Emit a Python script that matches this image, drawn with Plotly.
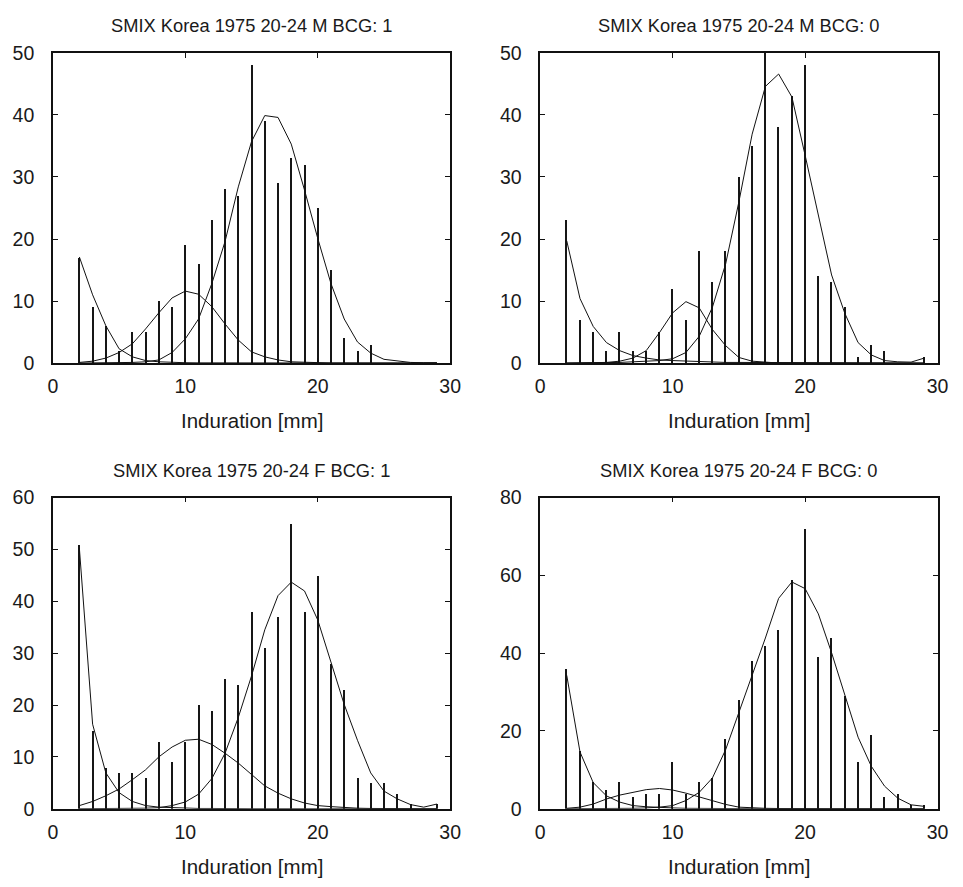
import plotly.graph_objects as go

# ---------------- data ----------------
x_bins = list(range(2, 30))  # induration 2..29 mm

titles = [
    "SMIX Korea 1975 20-24 M BCG: 1",
    "SMIX Korea 1975 20-24 M BCG: 0",
    "SMIX Korea 1975 20-24 F BCG: 1",
    "SMIX Korea 1975 20-24 F BCG: 0",
]
x_title = "Induration [mm]"
x_ticks = [0, 10, 20, 30]
y_ranges = [[0, 50], [0, 50], [0, 60], [0, 80]]
y_dticks = [10, 10, 10, 20]

# observed counts (x = 2..29)
counts_m1 = [17, 9, 6, 2, 5, 5, 10, 9, 19, 16, 23, 28, 27, 48, 39, 29, 33, 32, 25, 15, 4, 2, 3, 0, 0, 0, 0, 0]
counts_m0 = [23, 7, 5, 2, 5, 2, 2, 5, 12, 7, 18, 13, 18, 30, 35, 50, 38, 43, 48, 14, 13, 9, 1, 3, 2, 0, 0, 1]
counts_f1 = [51, 15, 8, 7, 7, 6, 13, 9, 13, 20, 19, 25, 24, 38, 31, 37, 55, 38, 45, 28, 23, 6, 5, 5, 3, 1, 0, 1]
counts_f0 = [36, 15, 7, 5, 7, 3, 4, 4, 12, 4, 7, 8, 18, 28, 38, 42, 46, 59, 72, 39, 44, 29, 12, 19, 3, 4, 1, 1]

# fitted mixture components (x = 2..29)
m1_a = [17.1, 11.0, 6.0, 2.3, 1.0, 0.4, 0.2, 0.1, 0.05, 0.03, 0.02, 0.01, 0, 0, 0, 0, 0, 0, 0, 0, 0, 0, 0, 0, 0, 0, 0, 0]
m1_b = [0.1, 0.3, 0.8, 1.7, 3.1, 5.5, 8.1, 10.5, 11.6, 11.1, 9.1, 6.3, 3.7, 1.8, 1.0, 0.5, 0.2, 0.1, 0, 0, 0, 0, 0, 0, 0, 0, 0, 0]
m1_c = [0, 0, 0, 0, 0.1, 0.2, 0.5, 1.7, 3.9, 7.1, 12.8, 19.6, 28.4, 35.7, 39.9, 39.6, 35.3, 27.9, 20.1, 12.8, 7.1, 3.4, 1.6, 0.6, 0.3, 0.1, 0.05, 0.05]

m0_a = [19.7, 10.4, 5.9, 3.3, 2.0, 1.2, 0.8, 0.5, 0.4, 0.3, 0.2, 0.15, 0.1, 0.1, 0.1, 0.05, 0.05, 0.05, 0.05, 0, 0, 0, 0, 0, 0, 0, 0, 0]
m0_b = [0, 0, 0.05, 0.1, 0.3, 0.8, 2.0, 4.9, 8.1, 9.9, 8.9, 5.4, 2.8, 0.9, 0.3, 0.1, 0, 0, 0, 0, 0, 0, 0, 0, 0, 0, 0, 0]
m0_c = [0, 0, 0, 0, 0.1, 0.2, 0.3, 0.4, 0.7, 1.7, 4.3, 9.0, 16.0, 26.0, 36.9, 44.6, 46.6, 42.9, 33.5, 23.6, 14.2, 8.0, 3.3, 1.3, 0.4, 0.2, 0.15, 0.8]

f1_a = [50.2, 16.3, 6.9, 3.1, 1.4, 0.6, 0.3, 0.2, 0.1, 0.05, 0.05, 0, 0, 0, 0, 0, 0, 0, 0, 0, 0, 0, 0, 0, 0, 0, 0, 0]
f1_b = [0.6, 1.4, 2.5, 3.8, 5.6, 7.5, 10.0, 11.9, 13.2, 13.4, 12.4, 10.7, 8.8, 6.6, 4.4, 3.0, 1.9, 1.1, 0.6, 0.4, 0.2, 0.1, 0.05, 0.05, 0, 0, 0, 0]
f1_c = [0, 0, 0, 0, 0, 0.1, 0.2, 0.6, 1.3, 2.8, 5.8, 10.7, 17.6, 25.6, 34.5, 41.1, 43.7, 42.0, 36.4, 28.2, 20.1, 13.2, 6.9, 3.4, 1.9, 0.8, 0.3, 0.9]

f0_a = [34.3, 14.6, 6.7, 3.3, 1.7, 0.8, 0.5, 0.3, 0.2, 0.1, 0.05, 0.05, 0, 0, 0, 0, 0, 0, 0, 0, 0, 0, 0, 0, 0, 0, 0, 0]
f0_b = [0.1, 0.4, 1.2, 2.5, 3.5, 4.3, 4.9, 5.2, 4.8, 4.0, 3.0, 1.9, 1.1, 0.4, 0.2, 0.1, 0.05, 0, 0, 0, 0, 0, 0, 0, 0, 0, 0, 0]
f0_c = [0, 0, 0, 0, 0, 0.1, 0.2, 0.4, 0.8, 2.1, 4.2, 7.9, 15.2, 24.6, 34.3, 43.9, 54.1, 58.3, 56.6, 50.1, 40.1, 29.2, 18.4, 10.9, 5.8, 2.7, 1.0, 0.6]

panels = [
    (counts_m1, [m1_a, m1_b, m1_c]),
    (counts_m0, [m0_a, m0_b, m0_c]),
    (counts_f1, [f1_a, f1_b, f1_c]),
    (counts_f0, [f0_a, f0_b, f0_c]),
]

# ---------------- layout geometry ----------------
W, H = 963, 887
x_domains = [[48.7 / W, 452.7 / W], [544.3 / W, 948.3 / W]]
y_domains = [[1 - 361 / H, 1 - 43 / H], [1 - 818 / H, 1 - 499 / H]]

FONT = "Liberation Sans, Arial, Helvetica, sans-serif"
TXT = "#1a1a1a"

fig = go.Figure()
annotations = []

for i, (counts, comps) in enumerate(panels):
    row, col = divmod(i, 2)
    n = i + 1
    xa = "x" if n == 1 else f"x{n}"
    ya = "y" if n == 1 else f"y{n}"
    fig.add_trace(go.Bar(
        x=x_bins, y=counts, width=0.152,
        marker=dict(color="#161616", line=dict(width=0)),
        xaxis=xa, yaxis=ya, showlegend=False,
    ))
    for comp in comps:
        fig.add_trace(go.Scatter(
            x=x_bins, y=comp, mode="lines",
            line=dict(color="#111111", width=1),
            xaxis=xa, yaxis=ya, showlegend=False, cliponaxis=True,
        ))
    axis_common = dict(
        showline=True, linecolor="#111111", linewidth=1.5, mirror="ticks",
        ticks="inside", ticklen=5, tickcolor="#111111", tickwidth=1,
        showgrid=False, zeroline=False,
        tickfont=dict(family=FONT, size=19.5, color=TXT),
    )
    fig.update_layout(**{
        ("xaxis" if n == 1 else f"xaxis{n}"): dict(
            domain=x_domains[col], range=[0, 30], tickvals=x_ticks,
            anchor=ya, ticklabelstandoff=5, **axis_common),
        ("yaxis" if n == 1 else f"yaxis{n}"): dict(
            domain=y_domains[row], range=y_ranges[i], dtick=y_dticks[i],
            anchor=xa, ticklabelstandoff=13, **axis_common),
    })
    xc = (x_domains[col][0] + x_domains[col][1]) / 2
    top_px = 43 if row == 0 else 499
    bot_px = 361 if row == 0 else 818
    annotations.append(dict(
        text=titles[i], x=xc, y=1 - (top_px - 28) / H, xref="paper", yref="paper",
        xanchor="center", yanchor="middle", showarrow=False,
        font=dict(family=FONT, size=18.3, color=TXT)))
    annotations.append(dict(
        text=x_title, x=xc, y=1 - (bot_px + 59) / H, xref="paper", yref="paper",
        xanchor="center", yanchor="middle", showarrow=False,
        font=dict(family=FONT, size=20.5, color=TXT)))

fig.update_layout(
    width=W, height=H,
    margin=dict(l=0, r=0, t=0, b=0),
    paper_bgcolor="white", plot_bgcolor="white",
    bargap=0, annotations=annotations,
    font=dict(family=FONT, color=TXT),
)

fig.write_html("out.html")
